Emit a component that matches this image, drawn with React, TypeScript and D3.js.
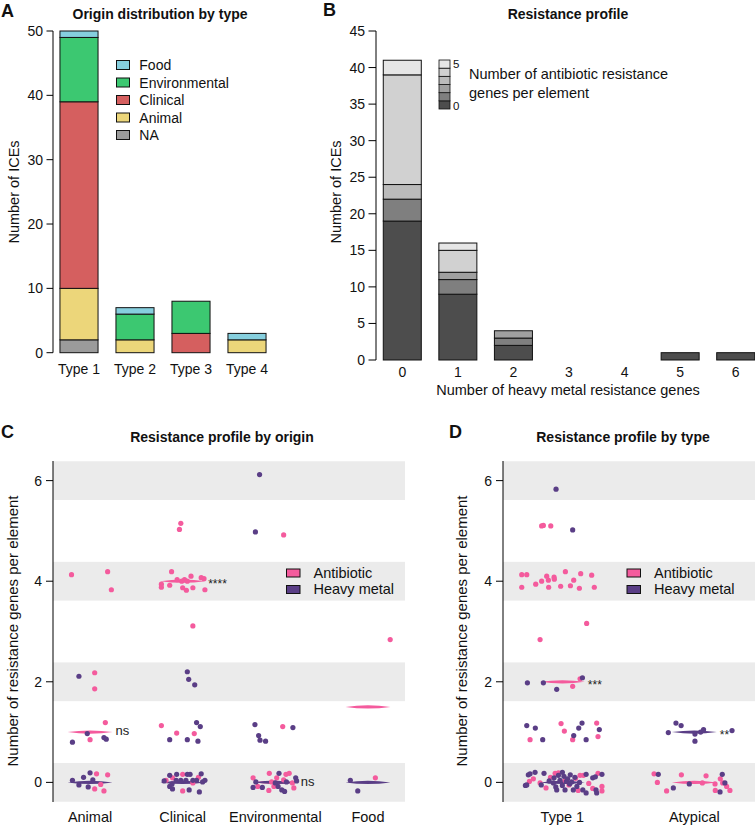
import React from "react";
import * as d3 from "d3";

// ---------- panel A: origin by type ----------
const typeCategories = ["Type 1", "Type 2", "Type 3", "Type 4"];
const originKeys = ["NA", "Animal", "Clinical", "Environmental", "Food"];
const originNA = [2, 0, 0, 0];
const originAnimal = [8, 2, 0, 2];
const originClinical = [29, 0, 3, 0];
const originEnvironmental = [10, 4, 5, 0];
const originFood = [1, 1, 0, 1];
const originLegend = ["Food", "Environmental", "Clinical", "Animal", "NA"];
const yTicksA = [0, 10, 20, 30, 40, 50];

// ---------- panel B: resistance profile ----------
const metalGenes = ["0", "1", "2", "3", "4", "5", "6"];
const abKeys = ["0", "1", "2", "3", "4", "5"];
const ab0 = [19, 9, 2, 0, 0, 1, 1];
const ab1 = [3, 2, 1, 0, 0, 0, 0];
const ab2 = [0, 1, 1, 0, 0, 0, 0];
const ab3 = [2, 0, 0, 0, 0, 0, 0];
const ab4 = [15, 3, 0, 0, 0, 0, 0];
const ab5 = [2, 1, 0, 0, 0, 0, 0];
const yTicksB = [0, 5, 10, 15, 20, 25, 30, 35, 40, 45];

// ---------- panels C / D: jittered points [x offset, value] ----------
const originCategories = ["Animal", "Clinical", "Environmental", "Food"];
const animalAntibiotic = [[0.165, 1.19], [0.0, 0.85], [0.07, 0.17], [0.05, -0.13], [0.115, -0.04], [0.15, -0.17], [0.19, 0.15], [0.05, 2.18], [0.05, 1.86], [-0.2, 4.13], [0.19, 4.19], [0.23, 3.83]];
const animalMetal = [[-0.03, 0.97], [-0.19, 0.8], [0.15, 0.89], [0.175, 0.86], [-0.19, 0.04], [-0.12, -0.05], [-0.07, 0.1], [0.0, 0.19], [0.03, 0.05], [-0.02, -0.09], [-0.12, 2.11]];
const clinicalAntibiotic = [[-0.02, 5.15], [-0.035, 5.03], [-0.12, 4.19], [-0.23, 3.94], [-0.23, 3.88], [-0.14, 3.92], [-0.06, 4.03], [0.0, 3.87], [0.04, 3.82], [0.02, 4.03], [0.05, 4.0], [0.09, 4.1], [0.11, 3.87], [0.2, 4.07], [0.23, 4.05], [0.24, 3.83], [-0.01, 4.0], [0.11, 3.11], [-0.23, 1.13], [-0.065, 0.98], [0.125, 0.97], [-0.18, 0.04], [0.0, -0.17], [0.0, 0.16], [0.11, -0.01], [0.17, 0.1], [-0.11, 0.09]];
const clinicalMetal = [[0.05, 2.2], [0.065, 2.05], [0.13, 1.94], [-0.14, 0.85], [0.05, 0.85], [0.15, 1.19], [0.19, 1.11], [0.165, 0.82], [-0.2, 0.03], [-0.14, 0.14], [-0.14, -0.08], [-0.11, -0.13], [-0.065, 0.16], [-0.02, 0.04], [0.035, 0.04], [0.05, 0.16], [0.08, 0.16], [0.07, -0.15], [0.15, 0.04], [0.2, 0.17], [0.215, 0.01], [0.24, 0.04], [0.18, -0.19], [-0.115, -0.03], [-0.07, 0.04], [0.11, 0.04]];
const environmentalAntibiotic = [[0.09, 4.92], [0.08, 1.11], [-0.24, 0.09], [-0.19, -0.08], [-0.065, 0.18], [-0.07, -0.16], [-0.04, 0.01], [-0.015, -0.08], [0.015, 0.09], [0.115, 0.16], [0.15, 0.18], [0.09, 0.05], [0.185, -0.01], [0.2, -0.11]];
const environmentalMetal = [[-0.17, 6.12], [-0.215, 4.98], [-0.22, 1.15], [0.19, 1.09], [-0.18, 0.93], [-0.165, 0.84], [-0.105, 0.82], [-0.24, -0.1], [-0.21, 0.01], [-0.14, -0.1], [0.04, 0.18], [0.03, -0.08], [0.07, -0.15], [0.1, -0.18], [0.12, 0.01], [0.22, 0.09], [0.23, 0.03], [0.0, -0.01]];
const foodAntibiotic = [[0.24, 2.84], [0.08, 0.09]];
const foodMetal = [[-0.19, 0.04], [-0.11, -0.17]];
const originSignif = ["ns", "****", "ns", ""];

const typeGroups = ["Type 1", "Atypical"];
const type1Antibiotic = [[-0.157, 5.1], [-0.144, 5.11], [-0.088, 5.1],
  [-0.308, 4.13], [-0.27, 4.13], [-0.119, 4.1], [-0.063, 4.08], [0.023, 4.19], [0.139, 4.15], [0.222, 4.12], [-0.157, 4.0], [-0.106, 4.02], [-0.202, 3.94], [-0.061, 4.04], [0.086, 4.02], [-0.308, 3.88], [-0.104, 3.88], [-0.013, 3.9], [0.061, 3.91], [0.129, 3.86], [0.242, 3.88],
  [0.184, 3.16], [-0.169, 2.84], [0.078, 1.91], [0.134, 2.06],
  [-0.245, 0.85], [-0.01, 1.17], [0.015, 1.02], [0.078, 0.85], [0.26, 1.18], [0.27, 0.91],
  [-0.22, 0.07], [-0.169, -0.01], [-0.124, -0.11], [-0.055, 0.18], [-0.03, 0.19], [0.02, 0.04], [0.12, -0.16], [0.134, 0.14], [0.16, 0.14], [0.27, 0.18], [0.3, -0.08], [0.3, -0.17], [0.2, -0.02], [-0.09, 0.1], [0.05, -0.05], [-0.25, 0.02], [0.1, 0.08], [0.23, -0.12]];
const type1Metal = [[-0.048, 5.83], [0.078, 5.02], [-0.265, 1.98], [-0.144, 1.98], [-0.043, 1.85], [0.152, 2.08],
  [-0.27, 1.13], [-0.205, 1.08], [-0.149, 0.85], [0.086, 0.93], [0.124, 1.08], [0.149, 1.18], [0.18, 0.85], [0.28, 1.05],
  [-0.28, -0.06], [-0.27, -0.05], [-0.258, 0.15], [-0.245, 0.17], [-0.207, 0.2], [-0.139, 0.18], [-0.068, -0.01], [-0.063, 0.09], [-0.043, -0.15], [-0.05, -0.09], [-0.018, 0.04], [0.0, -0.06], [0.012, 0.12], [0.02, -0.15], [0.04, 0.07], [0.055, -0.03], [0.07, 0.01], [0.083, -0.15], [0.095, 0.1], [0.11, -0.08], [0.155, -0.15], [0.18, 0.16], [0.18, -0.21], [0.23, 0.09], [0.25, 0.11], [0.3, 0.16], [0.255, -0.15], [0.26, -0.21], [-0.1, 0.03], [-0.03, 0.14], [0.03, 0.02], [0.13, 0.0], [-0.16, -0.05], [0.0, 0.2], [0.06, 0.15]];
const atypicalAntibiotic = [[-0.305, 0.17], [-0.28, 0.0], [-0.21, -0.17], [-0.098, 0.15], [0.061, -0.01], [0.089, 0.13], [0.157, -0.03], [0.159, -0.16], [0.197, 0.07], [0.215, -0.01], [0.27, -0.16], [0.245, -0.08]];
const atypicalMetal = [[-0.139, 1.18], [-0.1, 1.13], [-0.197, 0.99], [0.005, 0.96], [0.048, 1.0], [0.07, 1.05], [0.005, 0.82], [0.286, 1.03],
  [-0.273, 0.16], [-0.159, -0.11], [-0.038, -0.03], [0.212, 0.16], [0.232, -0.01], [0.195, -0.19]];
const typeSignif = ["***", "**"];
const yTicksCD = [0, 2, 4, 6];

const FONT = "'Liberation Sans', Arial, Helvetica, sans-serif";
const PINK = "#f45b9d";
const PURPLE = "#5a3e86";
const originColors = { NA: "#9b9b9b", Animal: "#ecd67a", Clinical: "#d55f5f", Environmental: "#3cc871", Food: "#86cfde" };
const abColors = d3.scaleOrdinal().domain(abKeys).range(["#4d4d4d", "#7f7f7f", "#a0a0a0", "#bbbbbb", "#d1d1d1", "#e6e6e6"]);

function PanelA() {
  const x = d3.scaleBand().domain(typeCategories).range([51, 275]).paddingInner(0.32).paddingOuter(0.16);
  const y = d3.scaleLinear().domain([0, 50]).range([352.7, 31]);
  const rows = typeCategories.map((t, i) => ({
    type: t, NA: originNA[i], Animal: originAnimal[i], Clinical: originClinical[i],
    Environmental: originEnvironmental[i], Food: originFood[i],
  }));
  const series = d3.stack().keys(originKeys)(rows);
  return (
    <g>
      <text x={1} y={17} fontSize={18} fontWeight="bold">A</text>
      <text x={160} y={19} fontSize={14} fontWeight="bold" textAnchor="middle">Origin distribution by type</text>
      <line x1={53} x2={53} y1={y(0)} y2={y(50)} stroke="#000" />
      {yTicksA.map((t) => (
        <g key={t}>
          <line x1={46.5} x2={53} y1={y(t)} y2={y(t)} stroke="#000" />
          <text x={43} y={y(t) + 5} fontSize={14} textAnchor="end">{t}</text>
        </g>
      ))}
      <text transform={`translate(19,192) rotate(-90)`} fontSize={14.5} textAnchor="middle">Number of ICEs</text>
      {series.map((s) => s.map((d, i) => d[1] - d[0] > 0 ? (
        <rect key={s.key + i} x={x(typeCategories[i])} width={x.bandwidth()} y={y(d[1])} height={y(d[0]) - y(d[1])}
          fill={originColors[s.key]} stroke="#111" strokeWidth={1} />
      ) : null))}
      {typeCategories.map((t) => (
        <text key={t} x={x(t) + x.bandwidth() / 2} y={373.5} fontSize={14} textAnchor="middle">{t}</text>
      ))}
      {originLegend.map((k, i) => (
        <g key={k}>
          <rect x={116.5} y={60.5 + i * 17.5} width={13} height={9} fill={originColors[k]} stroke="#111" />
          <text x={139.3} y={70 + i * 17.5} fontSize={14}>{k}</text>
        </g>
      ))}
    </g>
  );
}

function PanelB() {
  const x = d3.scaleBand().domain(metalGenes).range([374.5, 763.5]).paddingInner(0.316).paddingOuter(0.158);
  const y = d3.scaleLinear().domain([0, 45]).range([360, 31]);
  const cols = [ab0, ab1, ab2, ab3, ab4, ab5];
  const rows = metalGenes.map((g, i) => {
    const r = { genes: g };
    abKeys.forEach((k, j) => { r[k] = cols[j][i]; });
    return r;
  });
  const series = d3.stack().keys(abKeys)(rows);
  const legY = d3.scaleBand().domain(abKeys.slice().reverse()).range([60, 109]);
  return (
    <g>
      <text x={323} y={16} fontSize={18} fontWeight="bold">B</text>
      <text x={568} y={19} fontSize={14} fontWeight="bold" textAnchor="middle">Resistance profile</text>
      <line x1={376} x2={376} y1={y(0)} y2={y(45)} stroke="#000" />
      {yTicksB.map((t) => (
        <g key={t}>
          <line x1={368.5} x2={376} y1={y(t)} y2={y(t)} stroke="#000" />
          <text x={365} y={y(t) + 5} fontSize={14} textAnchor="end">{t}</text>
        </g>
      ))}
      <text transform={`translate(340.5,192) rotate(-90)`} fontSize={14.5} textAnchor="middle">Number of ICEs</text>
      {series.map((s) => s.map((d, i) => d[1] - d[0] > 0 ? (
        <rect key={s.key + i} x={x(metalGenes[i])} width={x.bandwidth()} y={y(d[1])} height={y(d[0]) - y(d[1])}
          fill={abColors(s.key)} stroke="#111" strokeWidth={1} />
      ) : null))}
      {metalGenes.map((g) => (
        <text key={g} x={x(g) + x.bandwidth() / 2} y={377} fontSize={14} textAnchor="middle">{g}</text>
      ))}
      <text x={568} y={395} fontSize={14.5} textAnchor="middle">Number of heavy metal resistance genes</text>
      {abKeys.map((k) => (
        <rect key={k} x={439} y={legY(k)} width={11} height={legY.bandwidth()} fill={abColors(k)} stroke="#111" strokeWidth={0.8} />
      ))}
      <text x={453} y={68} fontSize={11.5}>5</text>
      <text x={453} y={110} fontSize={11.5}>0</text>
      <text x={469} y={78.5} fontSize={14.5}>Number of antibiotic resistance</text>
      <text x={469} y={97.5} fontSize={14.5}>genes per element</text>
    </g>
  );
}

function lensPath(cx, cy, hw, t) {
  return `M${cx - hw},${cy} Q${cx},${cy - t} ${cx + hw},${cy} Q${cx},${cy + t} ${cx - hw},${cy} Z`;
}

function DotPanel({ cats, anti, metal, signif, xDomain, xRange, letter, letterX, title, titleX, yLabelX, legendX }) {
  const x = d3.scaleLinear().domain(xDomain).range(xRange);
  const y = d3.scaleLinear().domain([-0.39, 6.39]).range([802, 461]);
  const axisX = xRange[0];
  const bandHalf = 0.385;
  return (
    <g>
      <text x={letterX} y={438} fontSize={18} fontWeight="bold">{letter}</text>
      <text x={titleX} y={442} fontSize={14} fontWeight="bold" textAnchor="middle">{title}</text>
      {yTicksCD.map((t) => (
        <rect key={"b" + t} x={axisX} width={xRange[1] - axisX}
          y={y(Math.min(t + bandHalf, 6.39))} height={y(Math.max(t - bandHalf, -0.39)) - y(Math.min(t + bandHalf, 6.39))}
          fill="#ebebeb" />
      ))}
      <line x1={axisX} x2={axisX} y1={y(6.39)} y2={y(-0.39)} stroke="#000" />
      {yTicksCD.map((t) => (
        <g key={t}>
          <line x1={axisX - 7} x2={axisX} y1={y(t)} y2={y(t)} stroke="#000" />
          <text x={axisX - 11} y={y(t) + 5} fontSize={14} textAnchor="end">{t}</text>
        </g>
      ))}
      <text transform={`translate(${yLabelX},631) rotate(-90)`} fontSize={15} textAnchor="middle">Number of resistance genes per element</text>
      {cats.map((c, i) => {
        const cx = x(i + 1);
        const mA = d3.median(anti[i], (p) => Math.round(p[1]));
        const mM = d3.median(metal[i], (p) => Math.round(p[1]));
        const top = Math.max(mA, mM);
        const isStar = signif[i].indexOf("*") >= 0;
        return (
          <g key={c}>
            <path d={lensPath(cx, y(mA), 22.5, 3.2)} fill={PINK} />
            <path d={lensPath(cx, y(mM), 22.5, 3.2)} fill={PURPLE} />
            {anti[i].map((p, j) => (
              <circle key={"a" + j} cx={x(i + 1 + p[0])} cy={y(p[1])} r={2.6} fill={PINK} />
            ))}
            {metal[i].map((p, j) => (
              <circle key={"m" + j} cx={x(i + 1 + p[0])} cy={y(p[1])} r={2.6} fill={PURPLE} />
            ))}
            {signif[i] ? (
              <text x={cx + 25.5} y={y(top) + (isStar ? 7 : 3.4)} fontSize={isStar ? 12 : 13} fill="#222">{signif[i]}</text>
            ) : null}
            <text x={cx} y={822} fontSize={14.5} textAnchor="middle">{c}</text>
          </g>
        );
      })}
      <rect x={legendX} y={569} width={13.5} height={8} fill={PINK} stroke="#111" />
      <rect x={legendX} y={585.5} width={13.5} height={8} fill={PURPLE} stroke="#111" />
      <text x={legendX + 27} y={578} fontSize={14.5}>Antibiotic</text>
      <text x={legendX + 27} y={594} fontSize={14.5}>Heavy metal</text>
    </g>
  );
}

export default function App() {
  return (
    <svg width={755} height={826} style={{ position: "absolute", left: 0, top: 0, background: "#fff" }}
      fontFamily={FONT} fill="#111">
      <rect width={755} height={826} fill="#fff" />
      <PanelA />
      <PanelB />
      <DotPanel cats={originCategories}
        anti={[animalAntibiotic, clinicalAntibiotic, environmentalAntibiotic, foodAntibiotic]}
        metal={[animalMetal, clinicalMetal, environmentalMetal, foodMetal]}
        signif={originSignif} xDomain={[0.6, 4.4]} xRange={[53, 405]}
        letter="C" letterX={1} title="Resistance profile by origin" titleX={222} yLabelX={18} legendX={286.5} />
      <DotPanel cats={typeGroups}
        anti={[type1Antibiotic, atypicalAntibiotic]}
        metal={[type1Metal, atypicalMetal]}
        signif={typeSignif} xDomain={[0.55, 2.46]} xRange={[503, 755]}
        letter="D" letterX={449} title="Resistance profile by type" titleX={623} yLabelX={466.5} legendX={627} />
    </svg>
  );
}
